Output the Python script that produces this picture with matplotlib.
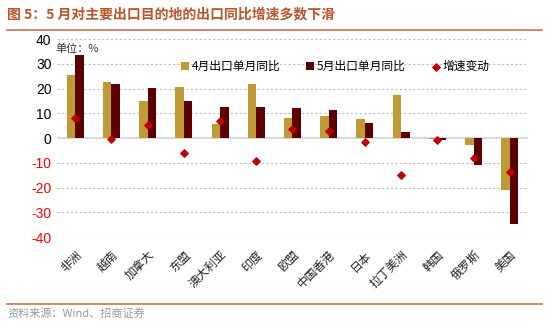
import matplotlib
matplotlib.use("Agg")
import matplotlib.pyplot as plt
import numpy as np

plt.rcParams['font.family'] = ['Noto Sans CJK SC', 'DejaVu Sans']

regions = ['非洲', '越南', '加拿大', '东盟', '澳大利亚', '印度', '欧盟',
           '中国香港', '日本', '拉丁美洲', '韩国', '俄罗斯', '美国']
apr = [25.3, 22.6, 15.0, 20.7, 5.7, 21.8, 8.2, 8.8, 7.7, 17.3, -0.3, -2.7, -21.2]
may = [33.4, 22.0, 20.4, 14.9, 12.7, 12.4, 12.0, 11.5, 6.1, 2.3, -0.9, -10.8, -34.7]
chg = [8.1, -0.5, 5.3, -6.1, 6.9, -9.3, 3.8, 2.7, -1.8, -15.0, -0.9, -8.1, -13.6]
yticks = [40, 30, 20, 10, 0, -10, -20, -30, -40]

fig = plt.figure(figsize=(5.5, 3.24), dpi=100)
ax = fig.add_axes([0.1036, 0.2685, 0.8564, 0.6111])

x = np.arange(len(regions))
w = 0.235
b1 = ax.bar(x - w / 2, apr, w, color='#C09A35', label='4月出口单月同比', zorder=3)
b2 = ax.bar(x + w / 2, may, w, color='#5C0000', label='5月出口单月同比', zorder=3)
sc = ax.scatter(x, chg, marker='D', s=14, color='#C00000', label='增速变动', zorder=4)

ax.set_xlim(-0.5, len(regions) - 0.5)
ax.set_ylim(-40, 40)
ax.set_yticks(yticks)
ax.set_yticklabels([str(v) for v in yticks], family='Liberation Sans', fontsize=10)
for lab, v in zip(ax.get_yticklabels(), yticks):
    lab.set_color('#FF0000' if v < 0 else 'black')
for v in yticks:
    if v != 0:
        ax.axhline(v, color='#BFBFBF', lw=0.8, ls=(0, (2, 2)), zorder=1)
ax.axhline(0, color='#D9D9D9', lw=1.5, zorder=2)

ax.set_xticks(x)
ax.set_xticklabels(regions, rotation=45, ha='right', va='top', fontsize=8.5,
                   rotation_mode='anchor', color='#222222')
ax.tick_params(axis='both', length=0, pad=4)
ax.tick_params(axis='x', pad=8)
for s in ax.spines.values():
    s.set_visible(False)

ax.text(-0.55, 36, '单位：%', fontsize=8, color='#333333', va='center')
ax.legend(handles=[b1, b2, sc], loc='upper left', bbox_to_anchor=(0.253, 0.918),
          ncol=3, frameon=False, fontsize=8.5, handlelength=0.7,
          handletextpad=0.2, columnspacing=2.2, borderaxespad=0)

fig.text(0.013, 0.955, '图 5：5 月对主要出口目的地的出口同比增速多数下滑',
         fontsize=10, fontweight='bold', color='#B8562B', va='center')
fig.add_artist(plt.Line2D([0.013, 0.985], [0.907, 0.907], color='#D07050', lw=1.2))
fig.add_artist(plt.Line2D([0.013, 0.985], [0.062, 0.062], color='#D07050', lw=1.2))
fig.text(0.013, 0.034, '资料来源：Wind、招商证券', fontsize=8, color='#999999', va='center')

fig.savefig('out.png', dpi=100)
